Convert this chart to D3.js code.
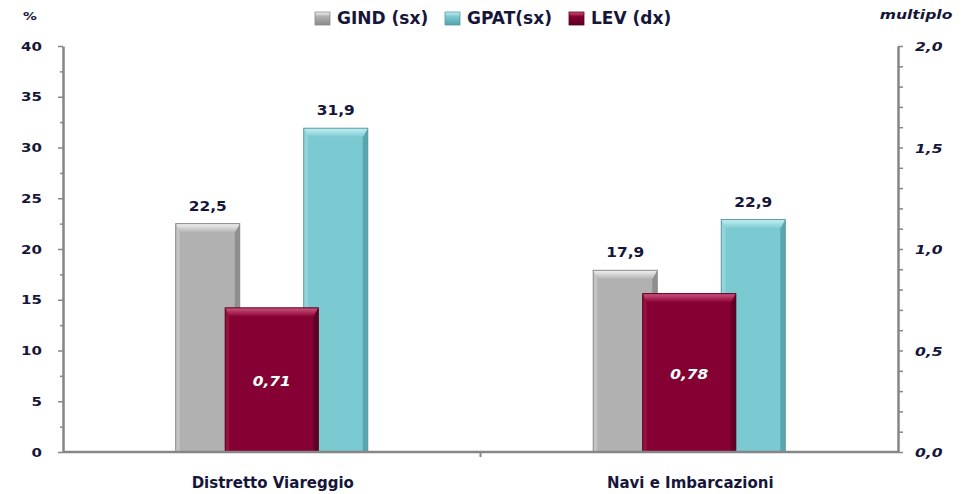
<!DOCTYPE html>
<html><head><meta charset="utf-8">
<script src="https://cdn.jsdelivr.net/npm/d3@7"></script>
<style>
body{margin:0;background:#fff}
svg{display:block}
text{font-family:"DejaVu Sans",sans-serif;font-weight:bold;fill:#16163a}
</style></head>
<body><svg id="c" width="975" height="494"></svg>
<script>
// ---- data ----
const categories = ["Distretto Viareggio", "Navi e Imbarcazioni"];
const seriesNames = ["GIND (sx)", "GPAT(sx)", "LEV (dx)"];
const gind = [22.5, 17.9];
const gpat = [31.9, 22.9];
const lev = [0.71, 0.78];
const leftTicks = [0, 5, 10, 15, 20, 25, 30, 35, 40];
const leftMinor = [2.5, 7.5, 12.5, 17.5, 22.5, 27.5, 32.5, 37.5];
const rightTicks = [0, 0.5, 1.0, 1.5, 2.0];
const rightMinor = [0.1,0.2,0.3,0.4,0.6,0.7,0.8,0.9,1.1,1.2,1.3,1.4,1.6,1.7,1.8,1.9];
const leftUnit = "%";
const rightUnit = "multiplo";

const fmt1 = d => d.toFixed(1).replace(".", ",");
const fmt2 = d => d.toFixed(2).replace(".", ",");

const colors = {
  GIND: {body:"#b1b1b1", top:"#f2f2f2", light:"#c4c4c4", dark:"#8a8a8a", edge:"#8a8a8a"},
  GPAT: {body:"#7ccad1", top:"#c4f1f4", light:"#92d6dc", dark:"#54a0a8", edge:"#5b9aa1"},
  LEV:  {body:"#850033", top:"#d2557f", light:"#95123f", dark:"#5a0022", edge:"#560020"}
};

const svg = d3.select("#c");
const m = {left: 63, right: 898, top: 46, bottom: 452};
const x0 = d3.scaleBand().domain(categories).range([m.left, m.right]);
const yL = d3.scaleLinear().domain([0, 40]).range([m.bottom, m.top]);
const yR = d3.scaleLinear().domain([0, 2]).range([m.bottom, m.top]);
const bw = x0.bandwidth();
const xs = d3.scaleBand().domain(["GIND", "GPAT"]).range([bw * 0.27, bw * 0.73]).paddingInner(0.5);
const levW = bw * 0.223;

// gradients
const defs = svg.append("defs");
Object.entries(colors).forEach(([k, c]) => {
  const g = defs.append("linearGradient").attr("id", "lg" + k).attr("x1", 0).attr("y1", 0).attr("x2", 0).attr("y2", 1);
  g.append("stop").attr("offset", 0).attr("stop-color", c.top);
  g.append("stop").attr("offset", 0.35).attr("stop-color", c.body);
  g.append("stop").attr("offset", 1).attr("stop-color", c.dark);
  const t = defs.append("linearGradient").attr("id", "tg" + k).attr("x1", 0).attr("y1", 0).attr("x2", 0).attr("y2", 1);
  t.append("stop").attr("offset", 0).attr("stop-color", c.top);
  t.append("stop").attr("offset", 1).attr("stop-color", c.body);
});

function sText(sel, x, y, str, opts) {
  const o = Object.assign({size: 13, sx: 1, anchor: "middle", italic: false, fill: null}, opts || {});
  const t = sel.append("text")
    .attr("transform", `translate(${x},${y}) scale(${o.sx},1)`)
    .attr("text-anchor", o.anchor)
    .attr("font-size", o.size)
    .text(str);
  if (o.italic) t.attr("font-style", "italic");
  if (o.fill) t.style("fill", o.fill);
  return t;
}

function bevelBar(g, x, y, w, h, c, key) {
  const b = Math.min(9, h / 2);
  const r = 5, l = 4;
  g.append("rect").attr("x", x).attr("y", y).attr("width", w).attr("height", h)
    .attr("fill", c.body);
  // left lighter side
  g.append("path").attr("d", `M${x},${y} L${x + l},${y + b} L${x + l},${y + h} L${x},${y + h} Z`)
    .attr("fill", c.light);
  // right darker side
  g.append("path").attr("d", `M${x + w},${y} L${x + w - r},${y + b} L${x + w - r},${y + h} L${x + w},${y + h} Z`)
    .attr("fill", c.dark).attr("opacity", 0.85);
  // top bevel
  g.append("path").attr("d", `M${x},${y} L${x + w},${y} L${x + w - r},${y + b} L${x + l},${y + b} Z`)
    .attr("fill", `url(#tg${key})`);
  g.append("rect").attr("x", x).attr("y", y).attr("width", w).attr("height", h)
    .attr("fill", "none").attr("stroke", c.edge).attr("stroke-width", 1);
}

// ---- axes ----
const axisColor = "#868686";
const gl = svg.append("g").attr("transform", `translate(${m.left},0)`);
gl.call(d3.axisLeft(yL).tickValues(leftTicks).tickSize(5).tickSizeOuter(0).tickFormat(""));
gl.append("g").call(d3.axisLeft(yL).tickValues(leftMinor).tickSize(3).tickSizeOuter(0).tickFormat(""))
  .select(".domain").remove();
const gr = svg.append("g").attr("transform", `translate(${m.right},0)`);
gr.call(d3.axisRight(yR).tickValues(rightTicks).tickSize(5).tickSizeOuter(0).tickFormat(""));
gr.append("g").call(d3.axisRight(yR).tickValues(rightMinor).tickSize(5).tickSizeOuter(0).tickFormat(""))
  .select(".domain").remove();
svg.selectAll(".domain").attr("stroke", axisColor).attr("stroke-width", 2.5);
svg.selectAll(".tick line").attr("stroke", axisColor).attr("stroke-width", 1.5);

// axis labels
leftTicks.forEach(v => sText(svg, 42, yL(v) + 4.5, String(v), {size: 12, sx: 1.25, anchor: "end"}));
rightTicks.forEach(v => sText(svg, 915, yR(v) + 5, fmt1(v), {size: 12, sx: 1.3, anchor: "start", italic: true}));
sText(svg, 30, 20, leftUnit, {size: 11, sx: 1.25});
sText(svg, 916, 19, rightUnit, {size: 13, sx: 1.2, italic: true});

// ---- bars ----
const gb = svg.append("g");
categories.forEach((cat, i) => {
  const bx = x0(cat);
  [["GIND", gind[i]], ["GPAT", gpat[i]]].forEach(([k, v]) => {
    const x = bx + xs(k);
    bevelBar(gb, x, yL(v), xs.bandwidth(), yL(0) - yL(v), colors[k], k);
  });
  const lx = bx + bw / 2 - levW / 2;
  bevelBar(gb, lx, yR(lev[i]), levW, yR(0) - yR(lev[i]), colors.LEV, "LEV");
});

// bottom axis (drawn over bar bottoms)
svg.append("line").attr("x1", m.left).attr("x2", m.right).attr("y1", m.bottom).attr("y2", m.bottom)
  .attr("stroke", axisColor).attr("stroke-width", 2.5);
svg.selectAll(".sep").data(categories.slice(1)).join("line").attr("class", "sep")
  .attr("x1", d => x0(d)).attr("x2", d => x0(d)).attr("y1", m.bottom).attr("y2", m.bottom + 5)
  .attr("stroke", axisColor).attr("stroke-width", 2);

// ---- value labels ----
categories.forEach((cat, i) => {
  const bx = x0(cat);
  [["GIND", gind[i]], ["GPAT", gpat[i]]].forEach(([k, v]) => {
    sText(svg, bx + xs(k) + xs.bandwidth() / 2, yL(v) - 13, fmt1(v), {size: 14, sx: 1.1});
  });
  const mid = (yR(lev[i]) + yR(0)) / 2;
  sText(svg, bx + bw / 2, mid + 6, fmt2(lev[i]), {size: 14, sx: 1.1, italic: true, fill: "#ffffff"})
    .style("paint-order", "stroke").attr("stroke", "#5a2a40").attr("stroke-width", 0.6);
  sText(svg, bx + bw / 2 + 1, 488, cat, {size: 15, sx: 1.0});
});

// ---- legend ----
const legendX = [315, 445, 569];
const legendKeys = ["GIND", "GPAT", "LEV"];
seriesNames.forEach((name, i) => {
  const k = legendKeys[i];
  svg.append("rect").attr("x", legendX[i]).attr("y", 12).attr("width", 15).attr("height", 13)
    .attr("fill", `url(#lg${k})`).attr("stroke", colors[k].edge).attr("stroke-width", 0.8);
  sText(svg, legendX[i] + 22, 24, name, {size: 17, sx: 1.0, anchor: "start"});
});
</script>
</body></html>
